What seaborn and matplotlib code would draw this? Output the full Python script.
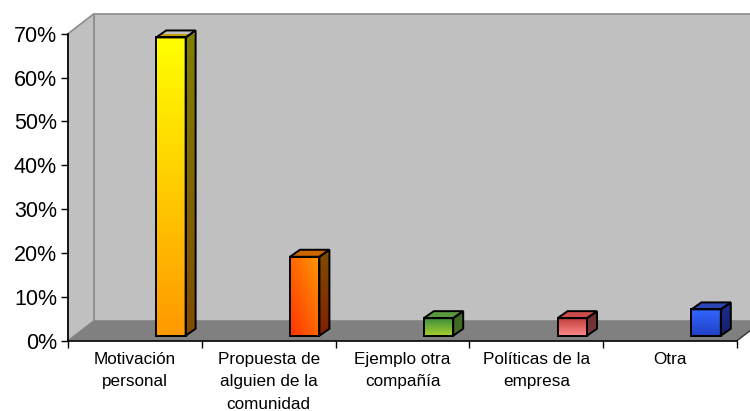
import numpy as np
import pandas as pd
import matplotlib
matplotlib.use("Agg")
import matplotlib.pyplot as plt
import seaborn as sns
from matplotlib.patches import Polygon
from matplotlib.colors import to_rgb
from matplotlib.ticker import PercentFormatter

# ---------------- data ----------------
categories = ["Motivación\npersonal", "Propuesta de\nalguien de la\ncomunidad",
              "Ejemplo otra\ncompañía", "Políticas de la\nempresa", "Otra"]
values = [0.68, 0.18, 0.04, 0.04, 0.06]
y_ticks = [0.0, 0.1, 0.2, 0.3, 0.4, 0.5, 0.6, 0.7]

# ---------------- styles ----------------
front_top = ["#FFFF00", "#FF9900", "#3E8C3E", "#C23E3E", "#3366FF"]
front_bottom = ["#FF9900", "#FF3300", "#A6D22E", "#FF8A8A", "#2040C4"]
side_top = ["#808000", "#804C00", "#3A6A2A", "#6A2C2C", "#1E2E8C"]
side_bottom = ["#804C00", "#802000", "#4A6A1E", "#7A3A3A", "#141E6A"]
top_face = ["#C0A000", "#CC6600", "#5A9A40", "#CC4C4C", "#2A46B4"]
diag = [False, True, False, False, False]

sns.set_theme(style="white")
plt.rcParams["font.family"] = ["Liberation Sans", "DejaVu Sans"]

W, H = 750, 411
fig = plt.figure(figsize=(W / 100, H / 100), dpi=100)
fig.patch.set_facecolor("white")
ax = fig.add_axes([68 / W, (H - 340.7) / H, 669 / W, 307 / H])

df = pd.DataFrame({"cat": categories, "val": values})
sns.barplot(data=df, x="cat", y="val", hue="cat", palette=front_top, width=0.22,
            ax=ax, legend=False, saturation=1, edgecolor="black", linewidth=1.3)
bars = list(ax.patches)

ax.set_xlim(-0.5, 4.5)
ax.set_ylim(0, 0.70)
ax.set_autoscale_on(False)
ax.patch.set_visible(False)
ax.set_xlabel("")
ax.set_ylabel("")
for s in ["top", "right"]:
    ax.spines[s].set_visible(False)
for s in ["left", "bottom"]:
    ax.spines[s].set_color("black")
    ax.spines[s].set_linewidth(1.2)
    ax.spines[s].set_zorder(5)

to_fig_t = ax.transData + fig.transFigure.inverted()


def to_fig(x, y):
    return np.array(to_fig_t.transform((x, y)))


D = np.array([26 / W, 20 / H])     # wall depth
S = np.array([36 / W, 5 / H])      # bar placement inside depth
B = np.array([10 / W, 7 / H])      # bar depth

# walls
p00 = to_fig(-0.5, 0); p01 = to_fig(-0.5, 0.7)
p10 = to_fig(4.5, 0); p11 = to_fig(4.5, 0.7)
ax.add_patch(Polygon([p00 + D, p10 + D, p11 + D, p01 + D], closed=True,
                     transform=fig.transFigure, clip_on=False,
                     facecolor="#C0C0C0", edgecolor="#8C8C8C", lw=1.2, zorder=0.1))
ax.add_patch(Polygon([p00, p01, p01 + D, p00 + D], closed=True,
                     transform=fig.transFigure, clip_on=False,
                     facecolor="#C0C0C0", edgecolor="#8C8C8C", lw=1.2, zorder=0.2))
ax.add_patch(Polygon([p00, p10, p10 + D, p00 + D], closed=True,
                     transform=fig.transFigure, clip_on=False,
                     facecolor="#808080", edgecolor="none", zorder=0.3))
ax.add_line(plt.Line2D([p10[0], p10[0] + D[0]], [p10[1], p10[1] + D[1]],
                       transform=fig.transFigure, color="#333333", lw=1.0,
                       clip_on=False, zorder=0.4))


def grad_img(c0, c1, diagonal, n=64):
    a = np.array(to_rgb(c0)); b = np.array(to_rgb(c1))  # c0 = bottom, c1 = top
    v = np.linspace(0, 1, n)[:, None]
    if diagonal:
        u = np.linspace(0, 1, n)[None, :]
        t = (u + v) / 2
    else:
        t = np.repeat(v, n, axis=1)
    return a[None, None, :] * (1 - t[..., None]) + b[None, None, :] * t[..., None]


def fill_poly(pts, c_bottom, c_top, diagonal, z):
    pts = np.array(pts)
    poly = Polygon(pts, closed=True, transform=fig.transFigure, clip_on=False,
                   facecolor="none", edgecolor="black", lw=1.4, zorder=z + 0.1)
    ax.add_patch(poly)
    ext = [pts[:, 0].min(), pts[:, 0].max(), pts[:, 1].min(), pts[:, 1].max()]
    im = ax.imshow(grad_img(c_bottom, c_top, diagonal), origin="lower", extent=ext,
                   transform=fig.transFigure, aspect="auto", zorder=z,
                   interpolation="bilinear")
    im.set_clip_path(poly)


for i, b in enumerate(bars):
    x0, y0, w, h = b.get_x(), b.get_y(), b.get_width(), b.get_height()
    fl_b = to_fig(x0, y0) + S
    fr_b = to_fig(x0 + w, y0) + S
    fr_t = to_fig(x0 + w, y0 + h) + S
    fl_t = to_fig(x0, y0 + h) + S
    b.set_visible(False)
    fill_poly([fl_b, fr_b, fr_t, fl_t], front_bottom[i], front_top[i], diag[i], 2)
    fill_poly([fr_b, fr_b + B, fr_t + B, fr_t], side_bottom[i], side_top[i], False, 2)
    fill_poly([fl_t, fr_t, fr_t + B, fl_t + B], top_face[i], top_face[i], False, 2)

ax.set_xlim(-0.5, 4.5)
ax.set_ylim(0, 0.70)

# ticks
ax.set_xticks(range(len(categories)))
ax.set_xticklabels(categories, fontsize=12.3, color="black", linespacing=1.62)
ax.set_xticks(np.arange(-0.5, len(categories), 1.0), minor=True)
ax.tick_params(axis="x", which="major", length=0, pad=8)
ax.tick_params(axis="x", which="minor", length=5, width=1, color="black",
               direction="out", bottom=True)
ax.set_yticks(y_ticks)
ax.yaxis.set_major_formatter(PercentFormatter(1.0, decimals=0))
ax.tick_params(axis="y", which="major", length=5, width=1, color="black",
               direction="out", left=True, labelsize=15.5, labelcolor="black", pad=3)

fig.savefig("out.png", dpi=100)
